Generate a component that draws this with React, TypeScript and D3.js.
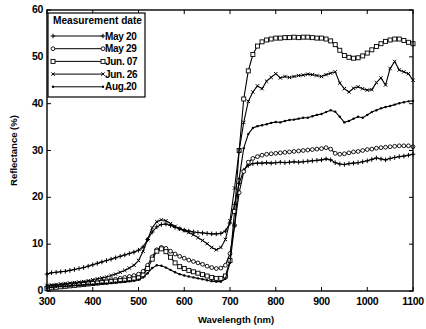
import { useEffect } from 'react'
import * as d3 from 'd3'

// wavelength grid, 10 nm steps
const wavelengths = d3.range(300, 1101, 10)

const may20 = [
  3.6, 3.9, 4.0, 4.1, 4.2, 4.4, 4.6, 4.8, 5.0, 5.3,
  5.6, 5.9, 6.2, 6.5, 6.8, 7.1, 7.4, 7.7, 8.0, 8.3,
  8.7, 9.4, 11.0, 12.6, 13.7, 14.2, 14.3, 14.0, 13.6, 13.3,
  13.0, 12.8, 12.6, 12.5, 12.4, 12.3, 12.2, 12.2, 12.3, 12.8,
  14.5, 18.5, 23.0, 25.8, 26.8, 27.2, 27.3, 27.3, 27.4, 27.3,
  27.4, 27.5, 27.4, 27.5, 27.6, 27.5, 27.6, 27.7, 27.8, 27.9,
  28.0, 28.2, 28.0, 27.4, 27.1, 27.0, 27.2, 27.3, 27.4, 27.6,
  27.8, 28.1, 28.4, 28.2, 28.0, 28.3, 28.5, 28.7, 28.8, 29.0, 29.2,
]
const may29 = [
  0.8, 1.0, 1.1, 1.2, 1.3, 1.4, 1.5, 1.6, 1.7, 1.8,
  1.9, 2.0, 2.1, 2.2, 2.4, 2.5, 2.7, 2.9, 3.1, 3.3,
  3.6, 4.2, 5.5, 7.3, 8.8, 9.3, 9.1, 8.5, 7.9, 7.4,
  7.0, 6.6, 6.3, 6.0, 5.7, 5.3, 5.0, 4.8, 4.9, 5.5,
  8.0, 14.0, 21.0, 25.5, 27.5, 28.3, 28.7, 29.0, 29.2, 29.3,
  29.4, 29.5, 29.6, 29.7, 29.8, 29.9, 30.0, 30.1, 30.2, 30.3,
  30.4, 30.6, 30.3, 29.4, 29.2, 29.3, 29.5, 29.7, 29.8, 30.0,
  30.2, 30.3, 30.5, 30.6, 30.7, 30.8, 30.9, 31.0, 31.0, 31.0, 30.8,
]
const jun07 = [
  0.5, 0.7, 0.8, 0.9, 1.0, 1.1, 1.2, 1.3, 1.4, 1.5,
  1.6, 1.7, 1.8, 1.9, 2.0, 2.1, 2.2, 2.3, 2.4, 2.6,
  2.8, 3.4, 4.8, 6.8, 8.5, 9.0, 8.4, 7.2, 6.0, 5.2,
  4.8, 4.4, 4.1, 3.8, 3.5, 3.2, 2.9, 2.7, 2.7, 3.2,
  6.5, 17.0, 30.0, 41.0, 47.0, 50.5, 52.3, 53.2, 53.6, 53.8,
  54.0, 54.0, 54.1, 54.1, 54.2, 54.1, 54.2, 54.2, 54.1, 54.0,
  54.0, 53.8, 53.4, 52.6, 51.4, 50.3, 49.9, 49.7, 49.8, 50.2,
  50.8, 51.5, 52.2, 52.8, 53.3, 53.6, 53.8, 53.8, 53.5, 53.1, 52.8,
]
const jun26 = [
  1.2, 1.3, 1.4, 1.5, 1.6, 1.7, 1.8, 1.9, 2.0, 2.2,
  2.4, 2.6, 2.8, 3.0, 3.3, 3.6, 4.0, 4.4, 4.9, 5.5,
  6.5, 8.5, 11.0, 13.5, 14.8, 15.2, 15.0, 14.4, 13.8, 13.3,
  12.9, 12.5, 12.0, 11.4, 10.8, 10.1, 9.3, 8.8, 9.3, 11.0,
  15.0, 22.0, 30.0, 36.0, 40.5, 42.5, 43.8, 43.2, 44.8, 45.6,
  46.4, 45.5, 45.8, 45.6, 45.8, 46.0, 46.1, 46.3, 46.2, 46.0,
  45.8, 46.2, 46.5, 46.8, 44.4, 43.2, 42.5, 43.3, 43.6, 43.2,
  42.9, 43.0, 44.5, 45.5, 44.0, 47.5, 49.0, 47.2, 46.8, 46.4, 45.0,
]
const aug20 = [
  0.6, 0.8, 0.9, 1.0, 1.0, 1.1, 1.2, 1.2, 1.3, 1.4,
  1.4, 1.5, 1.6, 1.6, 1.7, 1.8, 1.9, 2.0, 2.1, 2.2,
  2.4, 2.9, 3.8, 4.9, 5.5, 5.4, 5.0, 4.5, 4.0, 3.6,
  3.3, 3.1, 2.9, 2.7, 2.5, 2.3, 2.1, 2.0, 2.0, 2.6,
  6.0, 14.0, 24.0, 30.5, 33.5, 34.8, 35.2, 35.4, 35.6, 35.9,
  36.1, 36.0, 36.3, 36.5, 36.6, 36.8, 37.0, 37.0, 37.3, 37.6,
  37.8, 38.2, 38.6, 38.3, 37.2, 36.0, 36.3, 36.8, 37.2, 37.0,
  37.6, 38.2, 38.6, 39.0, 39.3, 39.5, 39.8, 40.1, 40.3, 40.5, 40.6,
]

const seriesNames = ['May 20', 'May 29', 'Jun. 07', 'Jun. 26', 'Aug.20']
const seriesValues = [may20, may29, jun07, jun26, aug20]
const markerKinds = ['plus', 'circle', 'square', 'cross', 'dot']

const xTicks = [300, 400, 500, 600, 700, 800, 900, 1000, 1100]
const yTicks = [0, 10, 20, 30, 40, 50, 60]

const W = 426
const H = 329
const margin = { top: 10, right: 13, bottom: 38, left: 47 }
const FONT = '"Liberation Sans", Arial, sans-serif'

function Marker({ kind, x, y }: { kind: string; x: number; y: number }) {
  if (kind === 'plus')
    return <path d={`M${x - 2.3},${y}H${x + 2.3}M${x},${y - 2.3}V${y + 2.3}`} stroke="#000" strokeWidth={1} />
  if (kind === 'circle')
    return <circle cx={x} cy={y} r={1.9} fill="#fff" stroke="#000" strokeWidth={0.9} />
  if (kind === 'square')
    return <rect x={x - 2} y={y - 2} width={4} height={4} fill="#fff" stroke="#000" strokeWidth={0.9} />
  if (kind === 'cross')
    return <path d={`M${x - 1.7},${y - 1.7}L${x + 1.7},${y + 1.7}M${x - 1.7},${y + 1.7}L${x + 1.7},${y - 1.7}`} stroke="#000" strokeWidth={1} />
  return <circle cx={x} cy={y} r={1.2} fill="#000" />
}

export default function App() {
  useEffect(() => {
    document.body.style.margin = '0'
  }, [])

  const x = d3.scaleLinear().domain([300, 1100]).range([margin.left, W - margin.right])
  const y = d3.scaleLinear().domain([0, 60]).range([H - margin.bottom, margin.top])
  const line = d3.line<number>().x((_, i) => x(wavelengths[i])).y(d => y(d))

  const x0 = x(300), x1 = x(1100), y0 = y(0), y1 = y(60)
  const tk = 4

  const legX = x0 + 1
  const legY = y1 + 3
  const legW = 97
  const legH = 84

  return (
    <svg width={W} height={H} style={{ display: 'block', background: '#fff' }} fontFamily={FONT}>
      {/* series */}
      {seriesValues.map((vals, si) => (
        <g key={seriesNames[si]}>
          <path d={line(vals) || ''} fill="none" stroke="#000" strokeWidth={1.1} />
          {vals.map((v, i) => (
            <Marker key={i} kind={markerKinds[si]} x={x(wavelengths[i])} y={y(v)} />
          ))}
        </g>
      ))}

      {/* frame */}
      <rect x={x0} y={y1} width={x1 - x0} height={y0 - y1} fill="none" stroke="#000" strokeWidth={1.4} />

      {/* ticks */}
      {xTicks.map(t => (
        <g key={'x' + t}>
          <line x1={x(t)} x2={x(t)} y1={y0} y2={y0 - tk} stroke="#000" />
          <line x1={x(t)} x2={x(t)} y1={y1} y2={y1 + tk} stroke="#000" />
          <text x={x(t)} y={y0 + 14} textAnchor="middle" fontSize={10.5} fontWeight="bold" letterSpacing={-0.3}>{t}</text>
        </g>
      ))}
      {yTicks.map(t => (
        <g key={'y' + t}>
          <line x1={x0} x2={x0 + tk} y1={y(t)} y2={y(t)} stroke="#000" />
          <line x1={x1} x2={x1 - tk} y1={y(t)} y2={y(t)} stroke="#000" />
          <text x={x0 - 4} y={y(t) + 3} textAnchor="end" fontSize={10.5} fontWeight="bold" letterSpacing={-0.3}>{t}</text>
        </g>
      ))}

      {/* axis titles */}
      <text x={236} y={323} textAnchor="middle" fontSize={9.5} fontWeight="bold">Wavelength (nm)</text>
      <text transform={`translate(17,${(y0 + y1) / 2}) rotate(-90)`} textAnchor="middle" fontSize={9.5} fontWeight="bold">
        Reflectance (%)
      </text>

      {/* legend */}
      <g>
        <rect x={legX} y={legY} width={legW} height={legH} fill="#fff" stroke="#000" strokeWidth={1.2} />
        <text x={legX + 5} y={legY + 11} fontSize={10} fontWeight="bold" textLength={89} lengthAdjust="spacingAndGlyphs">
          Measurement date
        </text>
        {seriesNames.map((name, i) => {
          const ry = legY + 23 + i * 12.7
          return (
            <g key={name}>
              <line x1={legX + 5} x2={legX + 55} y1={ry} y2={ry} stroke="#000" strokeWidth={1} />
              <Marker kind={markerKinds[i]} x={legX + 5} y={ry} />
              <Marker kind={markerKinds[i]} x={legX + 55} y={ry} />
              <text x={legX + 57} y={ry + 3.5} fontSize={10} fontWeight="bold" letterSpacing={-0.3}>{name}</text>
            </g>
          )
        })}
      </g>
    </svg>
  )
}
